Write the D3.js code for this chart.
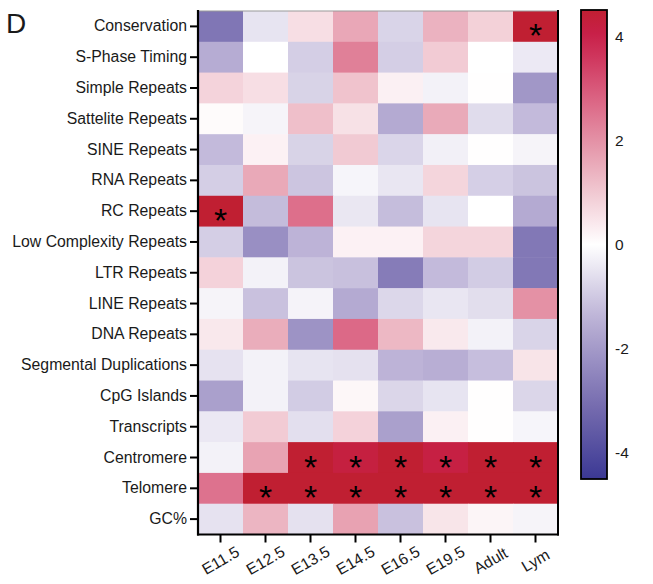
<!DOCTYPE html>
<html>
<head>
<meta charset="utf-8">
<style>
  body { margin: 0; background: #fff; }
  text { font-family: "Liberation Sans", Arial, sans-serif; fill: #1a1a1a; }
</style>
</head>
<body>
<script src="https://d3js.org/d3.v7.min.js"></script>
<script>
// columns (stages) and rows (genomic features)
var stages = ["E11.5", "E12.5", "E13.5", "E14.5", "E16.5", "E19.5", "Adult", "Lym"];
var features = ["Conservation", "S-Phase Timing", "Simple Repeats", "Sattelite Repeats",
  "SINE Repeats", "RNA Repeats", "RC Repeats", "Low Complexity Repeats", "LTR Repeats",
  "LINE Repeats", "DNA Repeats", "Segmental Duplications", "CpG Islands", "Transcripts",
  "Centromere", "Telomere", "GC%"];

// one row of values per feature, in stage order
var conservation = [-2.85, -0.5, 0.6, 1.6, -0.8, 1.4, 0.85, 4.5];
var sphase       = [-1.55, 0, -0.9, 2.3, -0.9, 0.95, 0, -0.4];
var simple       = [0.8, 0.6, -0.82, 1.1, 0.27, -0.25, 0.02, -2.05];
var satellite    = [0.08, -0.2, 1.17, 0.55, -1.6, 1.55, -0.65, -1.27];
var sine         = [-1.27, 0.25, -0.82, 0.97, -0.78, -0.27, 0.02, -0.2];
var rna          = [-0.9, 1.57, -1.08, -0.18, -0.46, 0.77, -0.88, -1.1];
var rc           = [4.5, -1.25, 2.6, -0.44, -1.22, -0.5, 0, -1.6];
var lowComplex   = [-0.9, -2.25, -1.4, 0.25, 0.25, 0.77, 0.77, -2.8];
var ltr          = [0.82, -0.25, -1.1, -1.17, -2.7, -1.27, -0.95, -2.8];
var line         = [-0.2, -1.14, -0.22, -1.6, -0.74, -0.46, -0.62, 2.0];
var dna          = [0.42, 1.5, -2.15, 2.7, 1.3, 0.4, -0.25, -0.8];
var segdup       = [-0.53, -0.25, -0.5, -0.55, -1.4, -1.5, -1.2, 0.5];
var cpg          = [-1.85, -0.25, -0.95, 0.15, -0.76, -0.5, 0.02, -0.76];
var transcripts  = [-0.42, 0.95, -0.6, 0.82, -1.85, 0.27, 0.02, -0.18];
var centromere   = [-0.25, 1.68, 4.5, 4.2, 4.5, 4.15, 4.5, 4.5];
var telomere     = [2.55, 4.5, 4.5, 4.5, 4.5, 4.5, 4.5, 4.5];
var gc           = [-0.53, 1.35, -0.55, 1.7, -1.14, 0.48, 0.18, -0.2];

var values = [conservation, sphase, simple, satellite, sine, rna, rc, lowComplex, ltr,
  line, dna, segdup, cpg, transcripts, centromere, telomere, gc];

// significant cells: [feature index, stage index]
var stars = [[0, 7], [6, 0],
  [14, 2], [14, 3], [14, 4], [14, 5], [14, 6], [14, 7],
  [15, 1], [15, 2], [15, 3], [15, 4], [15, 5], [15, 6], [15, 7]];

var colorTicks = [4, 2, 0, -2, -4];

var W = 653, H = 584;
var svg = d3.select("body").append("svg").attr("width", W).attr("height", H);

var x = d3.scaleBand().domain(stages).range([198, 558]);
var y = d3.scaleBand().domain(features).range([11, 534.5]);

var color = d3.scaleLinear()
  .domain([-4.5, -3, -1.5, 0, 1.5, 3, 4, 4.5])
  .range(["#3b3894", "#7a70b1", "#b8aed4", "#ffffff", "#eaadbb", "#d8587a", "#c9204a", "#c01f32"])
  .clamp(true);

var cells = [];
values.forEach(function(row, i) {
  row.forEach(function(v, j) { cells.push({ f: features[i], s: stages[j], v: v }); });
});

svg.append("g").selectAll("rect").data(cells).enter().append("rect")
  .attr("x", function(d) { return x(d.s); })
  .attr("y", function(d) { return y(d.f); })
  .attr("width", x.bandwidth() + 0.5)
  .attr("height", y.bandwidth() + 0.5)
  .attr("fill", function(d) { return color(d.v); });

svg.append("g").selectAll("text").data(stars).enter().append("text")
  .attr("x", function(d) { return x(stages[d[1]]) + x.bandwidth() / 2; })
  .attr("y", function(d) { return y(features[d[0]]) + y.bandwidth() / 2 + 21; })
  .attr("text-anchor", "middle")
  .style("font-size", "34px")
  .style("fill", "#000")
  .text("*");

// frame
svg.append("line").attr("x1", 198).attr("x2", 558).attr("y1", 11).attr("y2", 11)
  .attr("stroke", "#999").attr("stroke-width", 1);
svg.append("line").attr("x1", 558).attr("x2", 558).attr("y1", 10).attr("y2", 535.5)
  .attr("stroke", "#000").attr("stroke-width", 2);

// y axis
var yAxis = svg.append("g").attr("transform", "translate(198,0)")
  .call(d3.axisLeft(y).tickSize(8).tickPadding(3));
yAxis.select(".domain").attr("stroke", "#000").attr("stroke-width", 2.2)
  .attr("d", "M0,10V535.5");
yAxis.selectAll(".tick line").attr("stroke", "#000").attr("stroke-width", 2);
yAxis.selectAll(".tick text").style("font-size", "15.8px").style("font-family", "Liberation Sans, Arial, sans-serif")
  .attr("fill", "#1a1a1a");

// x axis
var xAxis = svg.append("g").attr("transform", "translate(0,534.5)")
  .call(d3.axisBottom(x).tickSize(8));
xAxis.select(".domain").attr("stroke", "#000").attr("stroke-width", 2.2)
  .attr("d", "M197,0H559");
xAxis.selectAll(".tick line").attr("stroke", "#000").attr("stroke-width", 2);
xAxis.selectAll(".tick text")
  .attr("y", 0).attr("dy", null)
  .attr("transform", "translate(0,26) rotate(-30)")
  .attr("dominant-baseline", "central")
  .style("text-anchor", "middle")
  .style("font-size", "15.8px").style("font-family", "Liberation Sans, Arial, sans-serif")
  .attr("fill", "#1a1a1a");

// colour bar
var cb = d3.scaleLinear().domain([-4.5, 4.5]).range([479, 10]);
var grad = svg.append("defs").append("linearGradient").attr("id", "cbar")
  .attr("x1", 0).attr("y1", 1).attr("x2", 0).attr("y2", 0);
d3.range(0, 1.0001, 0.05).forEach(function(t) {
  grad.append("stop").attr("offset", t).attr("stop-color", color(-4.5 + 9 * t));
});
svg.append("rect").attr("x", 581).attr("y", 10).attr("width", 26).attr("height", 469)
  .attr("fill", "url(#cbar)").attr("stroke", "#000").attr("stroke-width", 1.8);
svg.append("g").selectAll("text").data(colorTicks).enter().append("text")
  .attr("x", 615)
  .attr("y", function(d) { return cb(d); })
  .attr("dominant-baseline", "central")
  .style("font-size", "15.5px")
  .text(function(d) { return d; });

// panel letter
svg.append("text").attr("x", 6).attr("y", 33).style("font-size", "28px").text("D");
</script>
</body>
</html>
